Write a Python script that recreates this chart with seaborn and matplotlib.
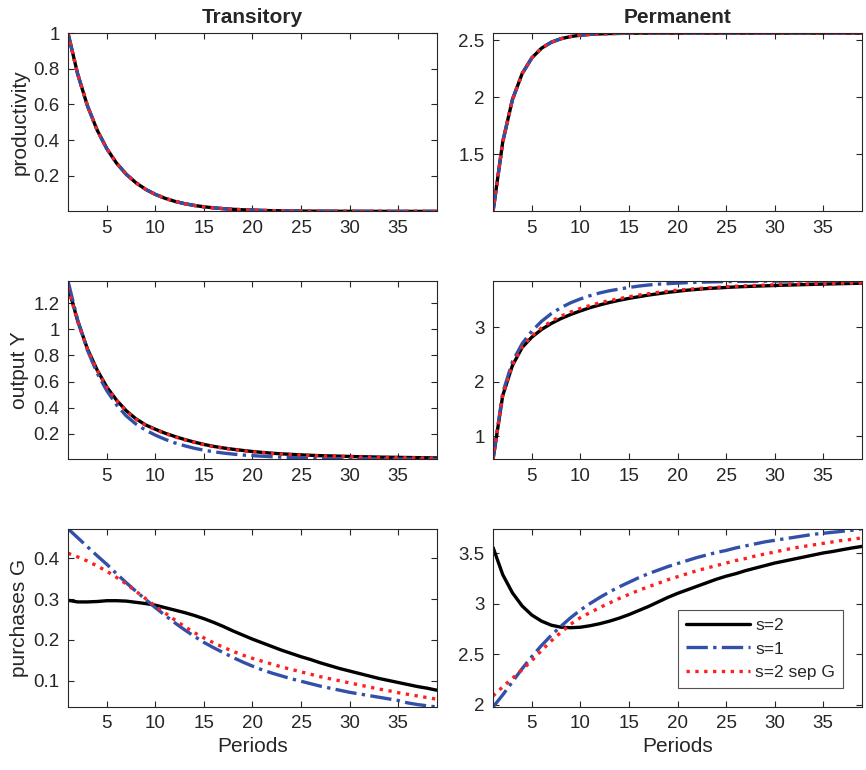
import numpy as np
import matplotlib.pyplot as plt
import seaborn as sns
from matplotlib.ticker import FuncFormatter

sns.set_theme(style="ticks")
plt.rcParams["font.family"] = ["Liberation Sans", "DejaVu Sans"]

periods = np.arange(1, 40)

# productivity (same path for all three models)
prod_trans = [1.0, 0.77, 0.5929, 0.4565, 0.3515, 0.2707, 0.2084, 0.1605, 0.1236, 0.0952,
              0.0733, 0.0564, 0.0434, 0.0334, 0.0258, 0.0198, 0.0153, 0.0118, 0.0091, 0.0070,
              0.0054, 0.0041, 0.0032, 0.0025, 0.0019, 0.0015, 0.0011, 0.0009, 0.0007, 0.0005,
              0.0004, 0.0003, 0.0002, 0.0002, 0.0001, 0.0001, 0.0001, 0.0001, 0.0000]
prod_perm = [1.0, 1.61, 1.982, 2.209, 2.347, 2.432, 2.484, 2.515, 2.534, 2.546,
             2.553, 2.557, 2.560, 2.5616, 2.5627, 2.5634, 2.5637, 2.5639, 2.564, 2.564,
             2.564, 2.564, 2.564, 2.564, 2.564, 2.564, 2.564, 2.564, 2.564, 2.564,
             2.564, 2.564, 2.564, 2.564, 2.564, 2.564, 2.564, 2.564, 2.564]

# output Y
out_trans_s2 = [1.33, 1.064, 0.851, 0.689, 0.558, 0.458, 0.377, 0.315, 0.268, 0.235,
                0.205, 0.18, 0.157, 0.137, 0.119, 0.104, 0.092, 0.082, 0.073, 0.065,
                0.058, 0.052, 0.047, 0.043, 0.039, 0.036, 0.033, 0.031, 0.029, 0.027,
                0.025, 0.024, 0.022, 0.021, 0.020, 0.019, 0.018, 0.017, 0.016]
out_trans_s1 = [1.37, 1.07, 0.84, 0.665, 0.53, 0.422, 0.337, 0.275, 0.228, 0.19,
                0.158, 0.131, 0.109, 0.09, 0.075, 0.063, 0.053, 0.045, 0.038, 0.033,
                0.029, 0.025, 0.022, 0.019, 0.017, 0.015, 0.013, 0.012, 0.011, 0.010,
                0.009, 0.009, 0.008, 0.008, 0.007, 0.007, 0.007, 0.006, 0.006]
out_trans_sep = [1.32, 1.058, 0.848, 0.686, 0.556, 0.456, 0.374, 0.312, 0.265, 0.232,
                 0.202, 0.177, 0.155, 0.135, 0.117, 0.102, 0.09, 0.08, 0.071, 0.063,
                 0.056, 0.05, 0.045, 0.041, 0.037, 0.034, 0.031, 0.029, 0.027, 0.025,
                 0.023, 0.022, 0.020, 0.019, 0.018, 0.017, 0.016, 0.015, 0.014]
out_perm_s2 = [0.58, 1.75, 2.30, 2.63, 2.82, 2.96, 3.07, 3.16, 3.235, 3.30,
               3.36, 3.41, 3.455, 3.495, 3.53, 3.56, 3.59, 3.615, 3.64, 3.66,
               3.68, 3.695, 3.71, 3.72, 3.73, 3.74, 3.747, 3.754, 3.76, 3.766,
               3.772, 3.777, 3.782, 3.787, 3.792, 3.796, 3.80, 3.804, 3.808]
out_perm_s1 = [0.58, 1.80, 2.37, 2.70, 2.93, 3.11, 3.25, 3.36, 3.45, 3.52,
               3.58, 3.63, 3.67, 3.70, 3.73, 3.755, 3.775, 3.79, 3.80, 3.81,
               3.818, 3.825, 3.83, 3.834, 3.837, 3.84, 3.842, 3.844, 3.845, 3.846,
               3.847, 3.848, 3.849, 3.85, 3.85, 3.85, 3.85, 3.85, 3.85]
out_perm_sep = [0.58, 1.76, 2.31, 2.64, 2.84, 2.99, 3.11, 3.205, 3.28, 3.345,
                3.40, 3.45, 3.49, 3.525, 3.56, 3.59, 3.615, 3.64, 3.66, 3.68,
                3.695, 3.71, 3.722, 3.733, 3.743, 3.752, 3.76, 3.767, 3.773, 3.779,
                3.784, 3.789, 3.793, 3.797, 3.801, 3.805, 3.808, 3.811, 3.814]

# purchases G
g_trans_s2 = [0.297, 0.293, 0.293, 0.294, 0.296, 0.296, 0.295, 0.292, 0.289, 0.285,
              0.279, 0.273, 0.267, 0.26, 0.252, 0.243, 0.233, 0.222, 0.212, 0.202,
              0.193, 0.184, 0.175, 0.167, 0.159, 0.152, 0.144, 0.137, 0.13, 0.124,
              0.118, 0.112, 0.106, 0.101, 0.096, 0.091, 0.086, 0.082, 0.077]
g_trans_s1 = [0.472, 0.45, 0.428, 0.406, 0.385, 0.362, 0.34, 0.319, 0.299, 0.279,
              0.26, 0.242, 0.225, 0.209, 0.194, 0.181, 0.169, 0.157, 0.146, 0.136,
              0.127, 0.119, 0.112, 0.105, 0.099, 0.093, 0.087, 0.082, 0.077, 0.072,
              0.068, 0.064, 0.060, 0.056, 0.052, 0.046, 0.042, 0.039, 0.036]
g_trans_sep = [0.412, 0.403, 0.393, 0.381, 0.368, 0.353, 0.337, 0.319, 0.301, 0.283,
               0.266, 0.249, 0.233, 0.218, 0.205, 0.193, 0.182, 0.172, 0.163, 0.155,
               0.148, 0.141, 0.134, 0.128, 0.122, 0.116, 0.11, 0.105, 0.1, 0.095,
               0.09, 0.085, 0.08, 0.076, 0.071, 0.067, 0.063, 0.059, 0.055]
g_perm_s2 = [3.56, 3.29, 3.11, 2.98, 2.89, 2.83, 2.79, 2.77, 2.765, 2.77,
             2.785, 2.805, 2.83, 2.86, 2.895, 2.935, 2.975, 3.02, 3.065, 3.105,
             3.14, 3.175, 3.21, 3.245, 3.275, 3.30, 3.33, 3.355, 3.38, 3.405,
             3.425, 3.445, 3.465, 3.485, 3.505, 3.52, 3.538, 3.555, 3.57]
g_perm_s1 = [1.98, 2.10, 2.23, 2.36, 2.48, 2.59, 2.69, 2.78, 2.865, 2.94,
             3.005, 3.065, 3.12, 3.17, 3.215, 3.26, 3.30, 3.335, 3.37, 3.40,
             3.43, 3.46, 3.485, 3.51, 3.53, 3.555, 3.575, 3.595, 3.615, 3.63,
             3.645, 3.66, 3.675, 3.69, 3.70, 3.71, 3.72, 3.73, 3.745]
g_perm_sep = [2.09, 2.18, 2.265, 2.35, 2.44, 2.54, 2.635, 2.72, 2.80, 2.865,
              2.915, 2.965, 3.01, 3.055, 3.095, 3.135, 3.17, 3.205, 3.24, 3.27,
              3.30, 3.33, 3.355, 3.38, 3.405, 3.43, 3.45, 3.475, 3.495, 3.515,
              3.535, 3.555, 3.57, 3.585, 3.60, 3.615, 3.63, 3.64, 3.655]

series_labels = ["s=2", "s=1", "s=2 sep G"]
series_colors = ["black", "#3350a8", "#ff1f1f"]
series_styles = ["-", "-.", ":"]

row_labels = ["productivity", "output Y", "purchases G"]
col_titles = ["Transitory", "Permanent"]
x_ticks = [5, 10, 15, 20, 25, 30, 35]
y_ticks = [
    [[0.2, 0.4, 0.6, 0.8, 1], [1.5, 2, 2.5]],
    [[0.2, 0.4, 0.6, 0.8, 1, 1.2], [1, 2, 3]],
    [[0.1, 0.2, 0.3, 0.4], [2, 2.5, 3, 3.5]],
]
panels = [
    [[prod_trans, prod_trans, prod_trans], [prod_perm, prod_perm, prod_perm]],
    [[out_trans_s2, out_trans_s1, out_trans_sep], [out_perm_s2, out_perm_s1, out_perm_sep]],
    [[g_trans_s2, g_trans_s1, g_trans_sep], [g_perm_s2, g_perm_s1, g_perm_sep]],
]

ink = "#262626"
fig, axes = plt.subplots(3, 2, figsize=(8.66, 7.7), dpi=100)
fig.subplots_adjust(left=0.0785, right=0.9954, bottom=0.0818, top=0.957,
                    wspace=0.152, hspace=0.39)

for r in range(3):
    for c in range(2):
        ax = axes[r, c]
        lines = panels[r][c]
        for vals, lab, col, ls in zip(lines, series_labels, series_colors, series_styles):
            sns.lineplot(x=periods, y=vals, ax=ax, color=col, linestyle=ls,
                         linewidth=2.4, label=lab, legend=False)
        lo = min(min(v) for v in lines)
        hi = max(max(v) for v in lines)
        ax.set_xlim(1, 39)
        ax.set_ylim(lo, hi)
        ax.set_xticks(x_ticks)
        ax.set_yticks(y_ticks[r][c])
        ax.yaxis.set_major_formatter(FuncFormatter(lambda v, _: f"{v:g}"))
        ax.tick_params(direction="in", top=True, right=True, length=4, width=0.8,
                       labelsize=13.5, colors=ink, pad=6)
        for sp in ax.spines.values():
            sp.set_visible(True)
            sp.set_color(ink)
            sp.set_linewidth(0.8)
        ax.set_xlabel("")
        ax.set_ylabel("")
        if c == 0:
            ax.set_ylabel(row_labels[r], fontsize=15, color=ink, labelpad=3)
        if r == 0:
            ax.set_title(col_titles[c], fontsize=15, fontweight="bold", color=ink, pad=7)
        if r == 2:
            ax.set_xlabel("Periods", fontsize=15, color=ink, labelpad=3)

leg = axes[2, 1].legend(loc="lower right", bbox_to_anchor=(1 - 19 / 369, 19 / 180),
                        borderaxespad=0, fontsize=12.5, frameon=True, fancybox=False,
                        edgecolor=ink, handlelength=3.7, handletextpad=0.3,
                        labelspacing=0.5, borderpad=0.45)
leg.get_frame().set_linewidth(0.8)
for t in leg.get_texts():
    t.set_color(ink)

fig.savefig("out.png", dpi=100)
